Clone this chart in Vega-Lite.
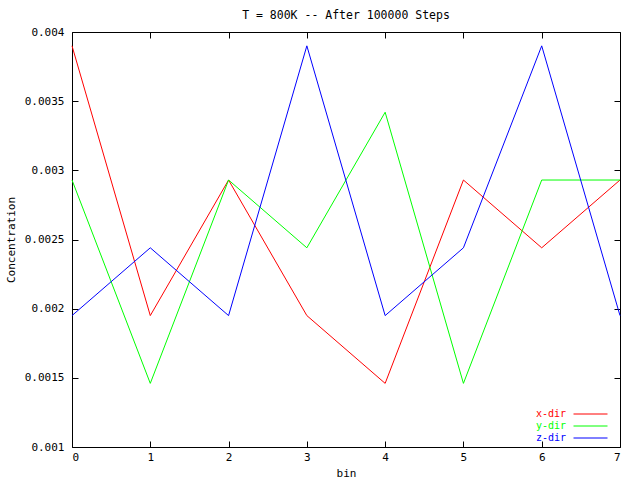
{
  "$schema": "https://vega.github.io/schema/vega-lite/v6.json",
  "width": 548,
  "height": 415,
  "autosize": {"type": "none"},
  "padding": {"left": 72, "top": 32, "right": 20, "bottom": 33},
  "background": "white",
  "title": {"text": "T = 800K -- After 100000 Steps", "font": "DejaVu Sans Mono", "fontSize": 11.5, "fontWeight": "normal", "color": "black", "offset": 5, "anchor": "middle"},
  "config": {
    "view": {"stroke": "black", "strokeWidth": 1},
    "axis": {"grid": false, "domain": false, "offset": -6, "tickSize": 6, "tickColor": "black", "labelColor": "black", "titleColor": "black", "labelFont": "DejaVu Sans Mono", "labelFontSize": 11, "titleFont": "DejaVu Sans Mono", "titleFontSize": 11, "titleFontWeight": "normal", "tickWidth": 1}
  },
  "data": {"values": [
    {"bin": 0, "dir": "x-dir", "value": 0.0039},
    {"bin": 1, "dir": "x-dir", "value": 0.00195},
    {"bin": 2, "dir": "x-dir", "value": 0.00293},
    {"bin": 3, "dir": "x-dir", "value": 0.00195},
    {"bin": 4, "dir": "x-dir", "value": 0.00146},
    {"bin": 5, "dir": "x-dir", "value": 0.00293},
    {"bin": 6, "dir": "x-dir", "value": 0.00244},
    {"bin": 7, "dir": "x-dir", "value": 0.00293},
    {"bin": 0, "dir": "y-dir", "value": 0.00293},
    {"bin": 1, "dir": "y-dir", "value": 0.00146},
    {"bin": 2, "dir": "y-dir", "value": 0.00293},
    {"bin": 3, "dir": "y-dir", "value": 0.00244},
    {"bin": 4, "dir": "y-dir", "value": 0.00342},
    {"bin": 5, "dir": "y-dir", "value": 0.00146},
    {"bin": 6, "dir": "y-dir", "value": 0.00293},
    {"bin": 7, "dir": "y-dir", "value": 0.00293},
    {"bin": 0, "dir": "z-dir", "value": 0.00195},
    {"bin": 1, "dir": "z-dir", "value": 0.00244},
    {"bin": 2, "dir": "z-dir", "value": 0.00195},
    {"bin": 3, "dir": "z-dir", "value": 0.0039},
    {"bin": 4, "dir": "z-dir", "value": 0.00195},
    {"bin": 5, "dir": "z-dir", "value": 0.00244},
    {"bin": 6, "dir": "z-dir", "value": 0.0039},
    {"bin": 7, "dir": "z-dir", "value": 0.00195}
  ]},
  "layer": [
    {
      "mark": {"type": "line", "strokeWidth": 1, "interpolate": "linear"},
      "encoding": {
        "x": {"field": "bin", "type": "quantitative", "scale": {"domain": [0, 7], "nice": false}, "axis": {"orient": "bottom", "values": [0,1,2,3,4,5,6,7], "format": "d", "title": "bin", "labelPadding": 4, "titlePadding": 5}},
        "y": {"field": "value", "type": "quantitative", "scale": {"domain": [0.001, 0.004], "nice": false, "zero": false}, "axis": {"orient": "left", "values": [0.001, 0.0015, 0.002, 0.0025, 0.003, 0.0035, 0.004], "format": "~g", "title": "Concentration", "labelPadding": 8, "titlePadding": 8}},
        "color": {"field": "dir", "type": "nominal", "scale": {"domain": ["x-dir", "y-dir", "z-dir"], "range": ["#ff0000", "#00ff00", "#0000ff"]},
          "legend": {"orient": "none", "legendX": 513, "legendY": 376, "padding": 0, "title": null, "symbolType": "M-3.4,0.1H3.4", "symbolSize": 100, "symbolStrokeWidth": 1, "labelFont": "DejaVu Sans Mono", "labelFontSize": 10, "labelAlign": "right", "labelOffset": -30, "rowPadding": 1, "symbolOffset": 0,
            "encode": {"labels": {"update": {"fill": {"signal": "scale('color', datum.value)"}}}}}}
      }
    },
    {
      "mark": {"type": "line", "strokeOpacity": 0},
      "encoding": {
        "x": {"field": "bin", "type": "quantitative", "axis": {"orient": "top", "values": [0,1,2,3,4,5,6,7], "labels": false, "title": null}},
        "y": {"field": "value", "type": "quantitative", "axis": {"orient": "right", "values": [0.001, 0.0015, 0.002, 0.0025, 0.003, 0.0035, 0.004], "labels": false, "title": null}},
        "detail": {"field": "dir"}
      }
    }
  ],
  "resolve": {"axis": {"x": "independent", "y": "independent"}}
}
